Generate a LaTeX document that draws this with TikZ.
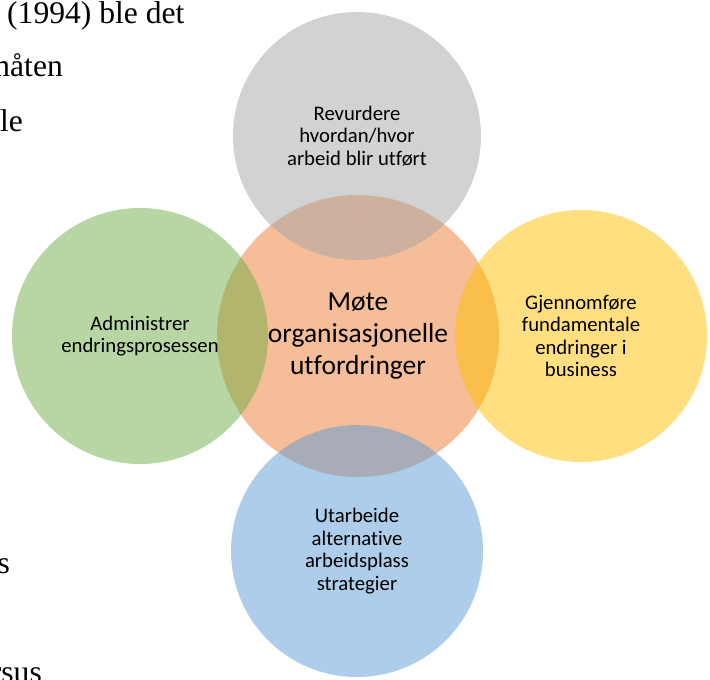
\documentclass[tikz,border=0pt]{standalone}
\usepackage{fontspec}
\setmainfont{Liberation Serif}
\newfontfamily\carlito[Ligatures=NoCommon]{Carlito}
\usepackage{tikz}

\definecolor{gris}{HTML}{A5A5A5}
\definecolor{orange}{HTML}{ED7D31}
\definecolor{vert}{HTML}{70AD47}
\definecolor{jaune}{HTML}{FFC000}
\definecolor{bleu}{HTML}{5B9BD5}

\newcommand\petit{\carlito\fontsize{20.8}{22.6}\selectfont}
\newcommand\grand{\carlito\fontsize{27.6}{31.7}\selectfont}
\newcommand\corps{\fontsize{31.7}{38}\selectfont}

\tikzset{
  bulle/.style={circle, inner sep=0pt, fill opacity=0.5, text opacity=1,
                align=center, font=\petit},
  ligne/.style={inner sep=0pt, font=\corps}
}

\begin{document}
\begin{tikzpicture}[x=1bp, y=-1bp]

      % cadre de la page
      \useasboundingbox (0, 0) rectangle (710, 680);
      \clip (0, 0) rectangle (710, 680);

      % texte courant coupe a gauche
      \node[ligne, anchor=base west] (t1) at (7, 24)   {(1994) ble det};
      \node[ligne, anchor=base east] (t2) at (63, 77)  {måten};
      \node[ligne, anchor=base east] (t3) at (23, 132) {ble};
      \node[ligne, anchor=base east] (t4) at (10, 573) {s};
      \node[ligne, anchor=base east] (t5) at (42, 682) {versus};

      % cercle central
      \node[bulle, fill=orange, minimum size=282bp, font=\grand] (ctr) at (358, 336)
        {Møte\\organisasjonelle\\utfordringer};

      % cercles autour
      \node[bulle, fill=gris, minimum size=248bp] (rev) at (357, 136)
        {Revurdere\\hvordan/hvor\\arbeid blir utført};
      \node[bulle, fill=vert, minimum size=256bp] (adm) at (140, 336)
        {Administrer\\endringsprosessen};
      \node[bulle, fill=jaune, minimum size=252bp] (gjen) at (581, 336)
        {Gjennomføre\\fundamentale\\endringer i\\business};
      \node[bulle, fill=bleu, minimum size=252bp] (utarb) at (357, 551)
        {Utarbeide\\alternative\\arbeidsplass\\strategier};

\end{tikzpicture}
\end{document}
